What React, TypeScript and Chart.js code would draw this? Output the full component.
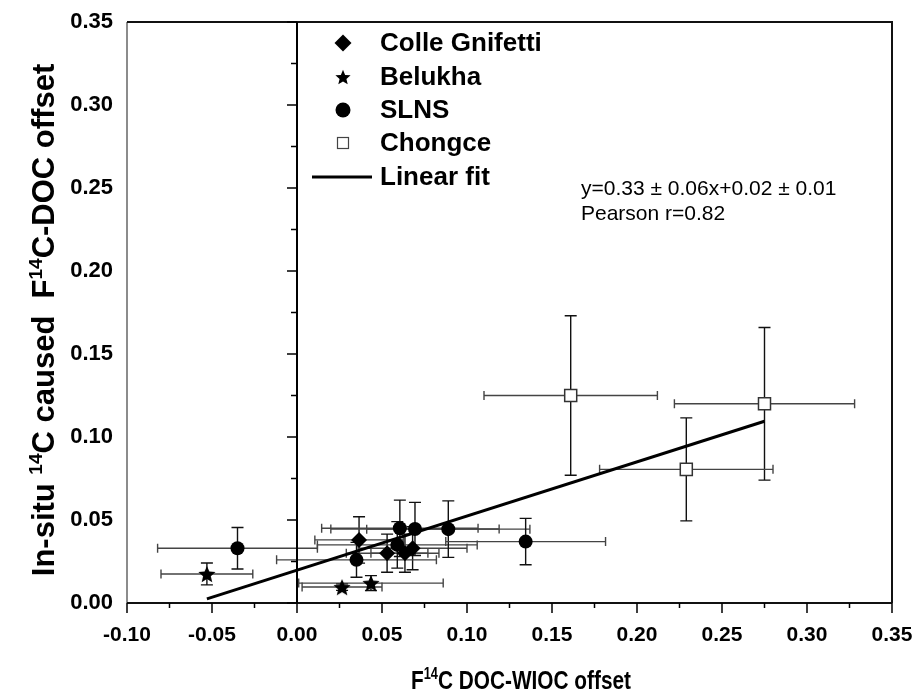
import React, { useEffect, useRef } from 'react';
import { Chart, registerables } from 'chart.js';

Chart.register(...registerables);

// ---- data ----
const colleX = [0.0365, 0.053, 0.0635, 0.068];
const colleY = [0.038, 0.030, 0.030, 0.033];
const colleXErr = [0.026, 0.024, 0.020, 0.032];
const colleYErr = [0.014, 0.0115, 0.0115, 0.013];

const belukhaX = [-0.053, 0.0265, 0.0435];
const belukhaY = [0.0175, 0.0096, 0.012];
const belukhaXErr = [0.027, 0.0235, 0.0425];
const belukhaYErr = [0.0066, 0.002, 0.0045];

const slnsX = [-0.035, 0.035, 0.059, 0.0605, 0.0694, 0.089, 0.1345];
const slnsY = [0.033, 0.026, 0.035, 0.045, 0.0446, 0.0445, 0.037];
const slnsXErr = [0.047, 0.047, 0.047, 0.046, 0.0495, 0.048, 0.047];
const slnsYErr = [0.0125, 0.0105, 0.014, 0.017, 0.016, 0.017, 0.014];

const chongceX = [0.161, 0.275, 0.229];
const chongceY = [0.125, 0.120, 0.0805];
const chongceXErr = [0.051, 0.053, 0.051];
const chongceYErr = [0.048, 0.046, 0.031];

const fitX = [-0.053, 0.275];
const fitY = [0.0025, 0.1095];

const legendLabels = ['Colle Gnifetti', 'Belukha', 'SLNS', 'Chongce', 'Linear fit'];
const annotationLines = ['y=0.33 \u00b1 0.06x+0.02 \u00b1 0.01', 'Pearson r=0.82'];
const xTitleParts: [string, boolean][] = [['F', false], ['14', true], ['C DOC-WIOC offset', false]];
const yTitleParts: [string, boolean][] = [['In-situ ', false], ['14', true], ['C caused  F', false], ['14', true], ['C-DOC offset', false]];

const SANS = "'Liberation Sans', Arial, sans-serif";

function pts(xs: number[], ys: number[]) {
  return xs.map((x, i) => ({ x, y: ys[i] }));
}

function fmt(v: any) {
  const n = Number(v);
  return Math.abs(n) < 1e-9 ? '0.00' : n.toFixed(2);
}

function starPath(ctx: CanvasRenderingContext2D, cx: number, cy: number, R: number) {
  const r = R * 0.45;
  ctx.beginPath();
  for (let i = 0; i < 10; i++) {
    const a = -Math.PI / 2 + (i * Math.PI) / 5;
    const rr = i % 2 === 0 ? R : r;
    const px = cx + Math.cos(a) * rr;
    const py = cy + Math.sin(a) * rr;
    if (i === 0) ctx.moveTo(px, py);
    else ctx.lineTo(px, py);
  }
  ctx.closePath();
}

function makeStar(R: number) {
  const c = document.createElement('canvas');
  const s = Math.ceil(R * 2 + 2);
  c.width = s;
  c.height = s;
  const g = c.getContext('2d')!;
  g.fillStyle = '#000';
  starPath(g, s / 2, s / 2 + R * 0.1, R);
  g.fill();
  return c;
}

function drawRich(ctx: CanvasRenderingContext2D, parts: [string, boolean][], cx: number, baseline: number, size: number, family: string, sx: number) {
  const nf = `bold ${size}px ${family}`;
  const sf = `bold ${Math.round(size * 0.62)}px ${family}`;
  let total = 0;
  const widths = parts.map(([t, sup]) => {
    ctx.font = sup ? sf : nf;
    const w = ctx.measureText(t).width;
    total += w;
    return w;
  });
  ctx.save();
  ctx.translate(cx, baseline);
  ctx.scale(sx, 1);
  let x = -total / 2;
  ctx.textAlign = 'left';
  ctx.textBaseline = 'alphabetic';
  parts.forEach(([t, sup], i) => {
    ctx.font = sup ? sf : nf;
    ctx.fillText(t, x, sup ? -size * 0.4 : 0);
    x += widths[i];
  });
  ctx.restore();
}

export default function App() {
  const ref = useRef<HTMLCanvasElement | null>(null);

  useEffect(() => {
    const canvas = ref.current!;
    const star = makeStar(9);

    const decor = {
      id: 'decor',
      beforeDatasetsDraw(chart: any) {
        const ctx = chart.ctx as CanvasRenderingContext2D;
        const xs = chart.scales.x;
        const ys = chart.scales.y;
        ctx.save();
        chart.data.datasets.forEach((ds: any) => {
          if (!ds.xErr) return;
          ds.data.forEach((p: any, i: number) => {
            const px = xs.getPixelForValue(p.x);
            const py = ys.getPixelForValue(p.y);
            const xl = xs.getPixelForValue(p.x - ds.xErr[i]);
            const xr = xs.getPixelForValue(p.x + ds.xErr[i]);
            const yt = ys.getPixelForValue(p.y + ds.yErr[i]);
            const yb = ys.getPixelForValue(p.y - ds.yErr[i]);
            ctx.strokeStyle = '#444';
            ctx.lineWidth = 1.4;
            ctx.beginPath();
            ctx.moveTo(xl, py); ctx.lineTo(xr, py);
            ctx.moveTo(xl, py - 4.5); ctx.lineTo(xl, py + 4.5);
            ctx.moveTo(xr, py - 4.5); ctx.lineTo(xr, py + 4.5);
            ctx.stroke();
            ctx.strokeStyle = '#111';
            ctx.beginPath();
            ctx.moveTo(px, yt); ctx.lineTo(px, yb);
            ctx.moveTo(px - 6, yt); ctx.lineTo(px + 6, yt);
            ctx.moveTo(px - 6, yb); ctx.lineTo(px + 6, yb);
            ctx.stroke();
          });
        });
        ctx.restore();
      },
      afterDraw(chart: any) {
        const ctx = chart.ctx as CanvasRenderingContext2D;
        const xs = chart.scales.x;
        const ys = chart.scales.y;
        const ca = chart.chartArea;
        ctx.save();
        ctx.strokeStyle = '#666';
        ctx.lineWidth = 1.5;
        ctx.beginPath();
        ctx.moveTo(ca.left, ca.bottom); ctx.lineTo(ca.left, ca.top);
        ctx.stroke();
        ctx.strokeStyle = '#111';
        ctx.lineWidth = 2;
        ctx.beginPath();
        ctx.moveTo(ca.left, ca.top); ctx.lineTo(ca.right, ca.top); ctx.lineTo(ca.right, ca.bottom);
        ctx.moveTo(ca.left, ca.bottom); ctx.lineTo(ca.right, ca.bottom);
        ctx.stroke();
        ctx.lineWidth = 1.5;
        ctx.strokeStyle = '#000';
        const xt = xs.ticks.map((t: any) => t.value);
        ctx.beginPath();
        xt.forEach((v: number, i: number) => {
          const px = xs.getPixelForValue(v);
          ctx.moveTo(px, ca.bottom); ctx.lineTo(px, ca.bottom + 10);
          if (i < xt.length - 1) {
            const pm = xs.getPixelForValue((v + xt[i + 1]) / 2);
            ctx.moveTo(pm, ca.bottom); ctx.lineTo(pm, ca.bottom + 5);
          }
        });
        ctx.stroke();
        const zx = xs.getPixelForValue(0);
        ctx.lineWidth = 2;
        ctx.beginPath();
        ctx.moveTo(zx, ca.bottom); ctx.lineTo(zx, ca.top);
        ctx.stroke();
        ctx.lineWidth = 1.5;
        const yt = ys.ticks.map((t: any) => t.value);
        ctx.beginPath();
        yt.forEach((v: number, i: number) => {
          const py = ys.getPixelForValue(v);
          ctx.moveTo(zx, py); ctx.lineTo(zx - 10, py);
          if (i < yt.length - 1) {
            const pm = ys.getPixelForValue((v + yt[i + 1]) / 2);
            ctx.moveTo(zx, pm); ctx.lineTo(zx - 6, pm);
          }
        });
        ctx.stroke();

        // legend
        const lx = 343;
        const rows = [43, 77, 110, 143, 177];
        ctx.fillStyle = '#000';
        ctx.beginPath();
        ctx.moveTo(lx, rows[0] - 8.5); ctx.lineTo(lx + 8.5, rows[0]); ctx.lineTo(lx, rows[0] + 8.5); ctx.lineTo(lx - 8.5, rows[0]);
        ctx.closePath(); ctx.fill();
        starPath(ctx, lx, rows[1] + 0.8, 8);
        ctx.fill();
        ctx.beginPath(); ctx.arc(lx, rows[2], 7.5, 0, Math.PI * 2); ctx.fill();
        ctx.fillStyle = '#fff';
        ctx.strokeStyle = '#444';
        ctx.lineWidth = 1.2;
        ctx.fillRect(lx - 5.5, rows[3] - 5.5, 11, 11);
        ctx.strokeRect(lx - 5.5, rows[3] - 5.5, 11, 11);
        ctx.strokeStyle = '#000';
        ctx.lineWidth = 3;
        ctx.beginPath(); ctx.moveTo(312, rows[4]); ctx.lineTo(372, rows[4]); ctx.stroke();
        ctx.fillStyle = '#000';
        ctx.font = `bold 26px ${SANS}`;
        ctx.textAlign = 'left';
        ctx.textBaseline = 'middle';
        legendLabels.forEach((l, i) => ctx.fillText(l, 380, rows[i] + 1));

        // annotation
        ctx.font = `21px ${SANS}`;
        ctx.textBaseline = 'alphabetic';
        ctx.fillText(annotationLines[0], 581, 195);
        ctx.fillText(annotationLines[1], 581, 220);

        // axis titles
        drawRich(ctx, xTitleParts, 521, 689, 26, SANS, 0.8);
        ctx.save();
        ctx.translate(54, 320);
        ctx.rotate(-Math.PI / 2);
        drawRich(ctx, yTitleParts, 0, 0, 31, SANS, 1);
        ctx.restore();
        ctx.restore();
      },
    };

    const chart = new Chart(canvas, {
      type: 'scatter',
      data: {
        datasets: [
          {
            type: 'line',
            label: 'Linear fit',
            data: pts(fitX, fitY),
            borderColor: '#000',
            borderWidth: 3,
            pointRadius: 0,
            showLine: true,
            fill: false,
            order: -1,
          } as any,
          {
            label: 'Colle Gnifetti',
            data: pts(colleX, colleY),
            xErr: colleXErr,
            yErr: colleYErr,
            pointStyle: 'rectRot',
            pointRadius: 8,
            backgroundColor: '#000',
            borderColor: '#000',
            borderWidth: 0,
          } as any,
          {
            label: 'Belukha',
            data: pts(belukhaX, belukhaY),
            xErr: belukhaXErr,
            yErr: belukhaYErr,
            pointStyle: star,
            pointRadius: 9,
            backgroundColor: '#000',
            borderColor: '#000',
          } as any,
          {
            label: 'SLNS',
            data: pts(slnsX, slnsY),
            xErr: slnsXErr,
            yErr: slnsYErr,
            pointStyle: 'circle',
            pointRadius: 7,
            backgroundColor: '#000',
            borderColor: '#000',
            borderWidth: 0,
          } as any,
          {
            label: 'Chongce',
            data: pts(chongceX, chongceY),
            xErr: chongceXErr,
            yErr: chongceYErr,
            pointStyle: 'rect',
            pointRadius: 8.5,
            backgroundColor: '#fff',
            borderColor: '#333',
            borderWidth: 1.5,
          } as any,
        ],
      },
      options: {
        responsive: false,
        animation: false,
        devicePixelRatio: 1,
        layout: { padding: { top: 22, right: 26, left: 0, bottom: 0 } },
        plugins: { legend: { display: false }, tooltip: { enabled: false } },
        scales: {
          x: {
            type: 'linear',
            min: -0.1,
            max: 0.35,
            afterFit: (s: any) => { s.height = 92; s.paddingLeft = 0; s.paddingRight = 0; },
            ticks: {
              stepSize: 0.05,
              padding: 20,
              color: '#000',
              font: { family: SANS, size: 21, weight: 'bold' },
              callback: fmt,
            },
            grid: { display: false, drawTicks: false },
            border: { display: false },
          },
          y: {
            type: 'linear',
            min: 0,
            max: 0.35,
            afterFit: (s: any) => { s.width = 127; s.paddingTop = 0; s.paddingBottom = 0; },
            ticks: {
              stepSize: 0.05,
              padding: 14,
              color: '#000',
              font: { family: SANS, size: 22, weight: 'bold' },
              callback: fmt,
            },
            grid: { display: false, drawTicks: false },
            border: { display: false },
          },
        },
      },
      plugins: [decor],
    });
    return () => chart.destroy();
  }, []);

  return (
    <div style={{ position: 'absolute', left: 0, top: 0, width: 918, height: 695, background: '#fff' }}>
      <canvas ref={ref} width={918} height={695} style={{ width: 918, height: 695, display: 'block' }} />
    </div>
  );
}
